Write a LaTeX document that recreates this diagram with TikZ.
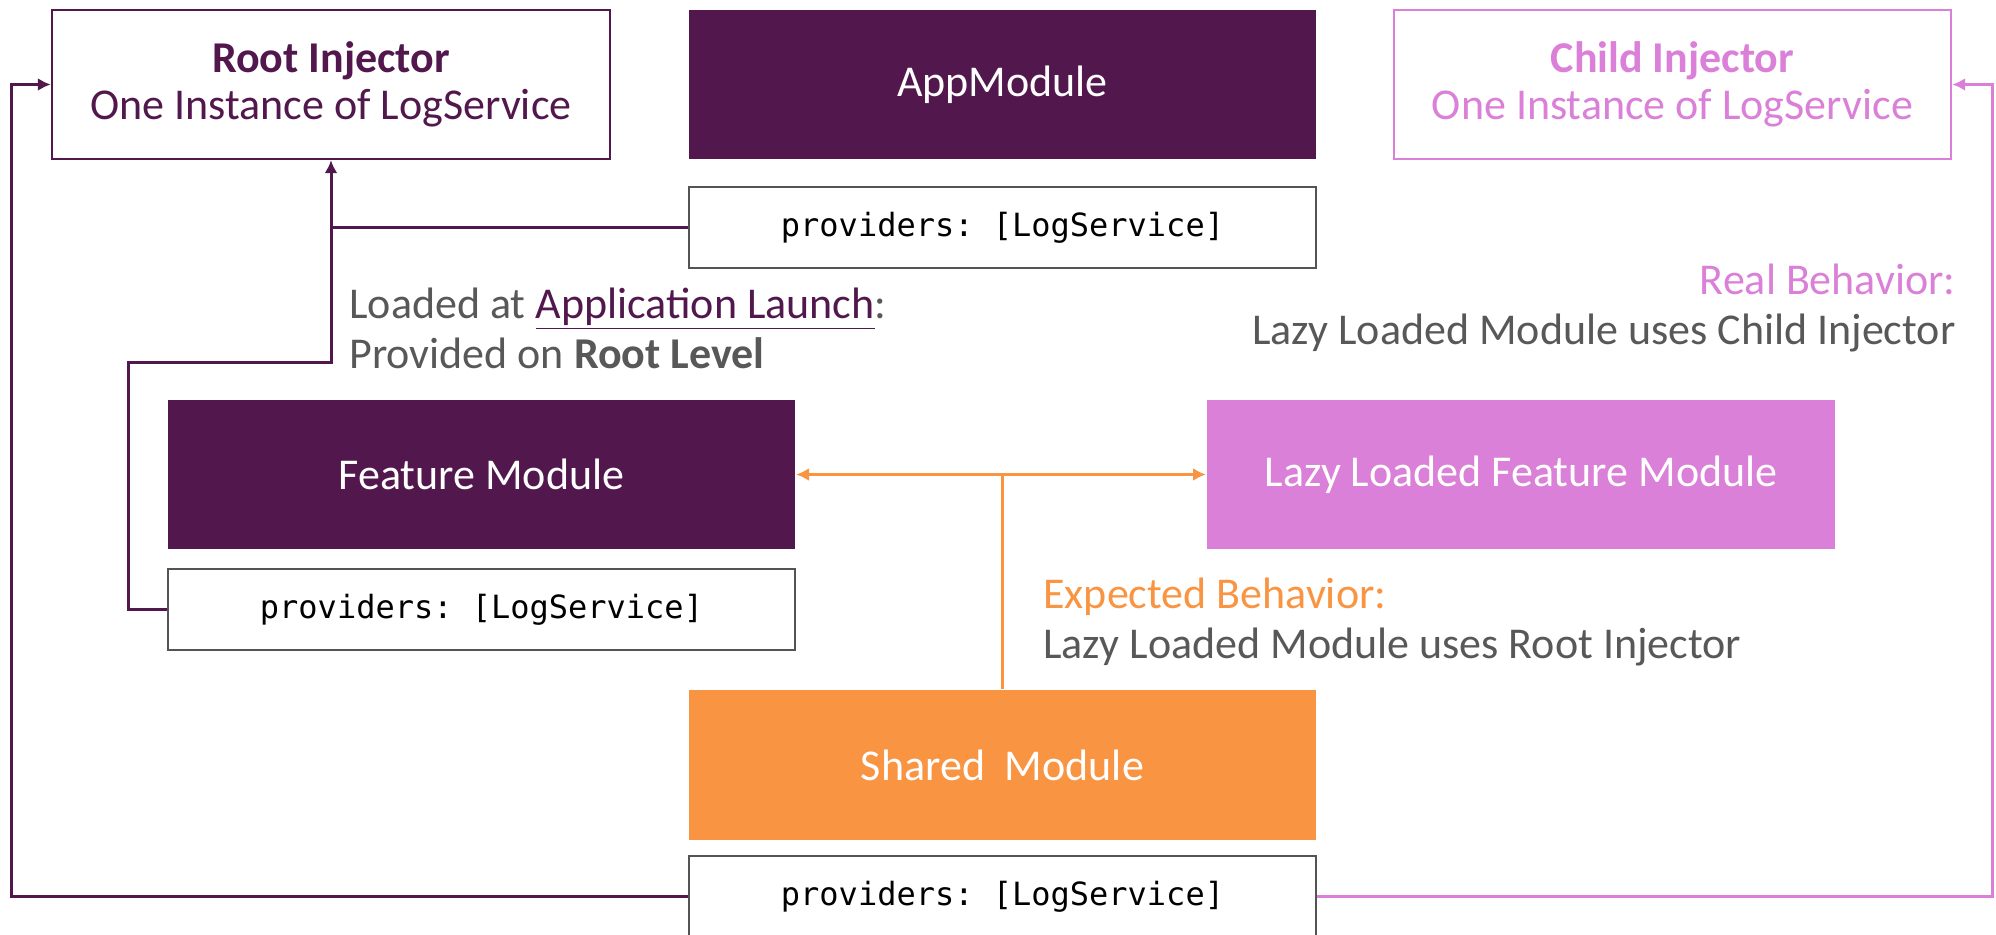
\documentclass[tikz,border=0pt]{standalone}
\usepackage{fontspec}
\setmainfont{Carlito}
\setmonofont{DejaVu Sans Mono}
\usetikzlibrary{arrows.meta}

\newlength{\du}
\setlength{\du}{0.5pt}

\definecolor{rootcolor}{rgb}{0.322, 0.094, 0.302}
\definecolor{childcolor}{rgb}{0.859, 0.502, 0.847}
\definecolor{sharedcolor}{rgb}{0.976, 0.584, 0.259}
\definecolor{notecolor}{rgb}{0.345, 0.345, 0.345}
\definecolor{provcolor}{rgb}{0.330, 0.330, 0.330}

\tikzset{
  boxfont/.style={font=\fontsize{22}{23.5}\selectfont},
  injector/.style={draw, line width=1.2pt, boxfont, align=center,
    minimum height=149\du, inner sep=0pt},
  module/.style={line width=1pt, boxfont, text=white,
    minimum width=627\du, minimum height=149\du, inner sep=0pt},
  provbox/.style={draw=provcolor, line width=1.2pt, fill=white,
    font=\ttfamily\fontsize{16}{17}\selectfont,
    minimum width=627\du, minimum height=81\du, inner sep=0pt},
  note/.style={font=\fontsize{22}{25}\selectfont, text=notecolor, inner sep=0pt},
  rootline/.style={draw=rootcolor, line width=1.5pt},
  childline/.style={draw=childcolor, line width=1.5pt},
  sharedline/.style={draw=sharedcolor, line width=1.5pt},
  arrowtip/.style={-{Latex[length=6.5pt,width=6.5pt]}},
  bothtips/.style={{Latex[length=6.5pt,width=6.5pt]}-{Latex[length=6.5pt,width=6.5pt]}}
}

\begin{document}
\begin{tikzpicture}
\pgftransformyscale{-1.000000}
\useasboundingbox (0\du,0\du) rectangle (1996\du,935\du);

% injectors
\node[injector, draw=rootcolor, text=rootcolor, minimum width=558\du] (root) at (331\du,84.5\du)
  {\textbf{Root Injector}\\One Instance of LogService};
\node[injector, draw=childcolor, text=childcolor, minimum width=557\du] (child) at (1672.5\du,84.5\du)
  {\textbf{Child Injector}\\One Instance of LogService};

% modules
\node[module, fill=rootcolor] (app) at (1002.5\du,84.5\du) {AppModule};
\node[provbox] (appprov) at (1002.5\du,227.5\du) {providers: [LogService]};
\node[module, fill=rootcolor] (feat) at (481.5\du,474.5\du) {Feature Module};
\node[provbox] (featprov) at (481.5\du,609.5\du) {providers: [LogService]};
\node[module, fill=childcolor, minimum width=628\du] (lazy) at (1521\du,474.5\du) {Lazy Loaded Feature Module};
\node[module, fill=sharedcolor, minimum height=150\du] (shared) at (1002.5\du,765\du) {Shared\ \ Module};
\node[provbox] (sharedprov) at (1002.5\du,896.5\du) {providers: [LogService]};

% notes
\node[note, anchor=west, align=left] (loaded) at (349\du,328\du)
  {Loaded at \textcolor{rootcolor}{\underline{Application Launch}}:\\Provided on \textbf{Root Level}};
\node[note, anchor=east, align=right] (real) at (1956\du,307.5\du)
  {\textcolor{childcolor}{Real Behavior:}\\Lazy Loaded Module uses Child Injector};
\node[note, anchor=west, align=left] (expected) at (1043\du,622\du)
  {\textcolor{sharedcolor}{Expected Behavior:}\\Lazy Loaded Module uses Root Injector};

% bends
\coordinate (featbend) at (128\du,363\du);
\coordinate (outerleft) at (11\du,84.5\du);
\coordinate (outerright) at (1992\du,84.5\du);

% connectors
\draw[rootline] (appprov.west) -- (appprov.west -| root.south);
\draw[rootline, arrowtip] (featprov.west) -| (featbend) -- (featbend -| root.south) -- (root.south);
\draw[rootline, arrowtip] (sharedprov.west) -| (outerleft) -- (root.west);
\draw[childline, arrowtip] (sharedprov.east) -| (outerright) -- (child.east);
\draw[sharedline, bothtips] (feat.east) -- (lazy.west);
\draw[sharedline] (shared.north) -- (shared.north |- lazy.west);
\end{tikzpicture}
\end{document}
